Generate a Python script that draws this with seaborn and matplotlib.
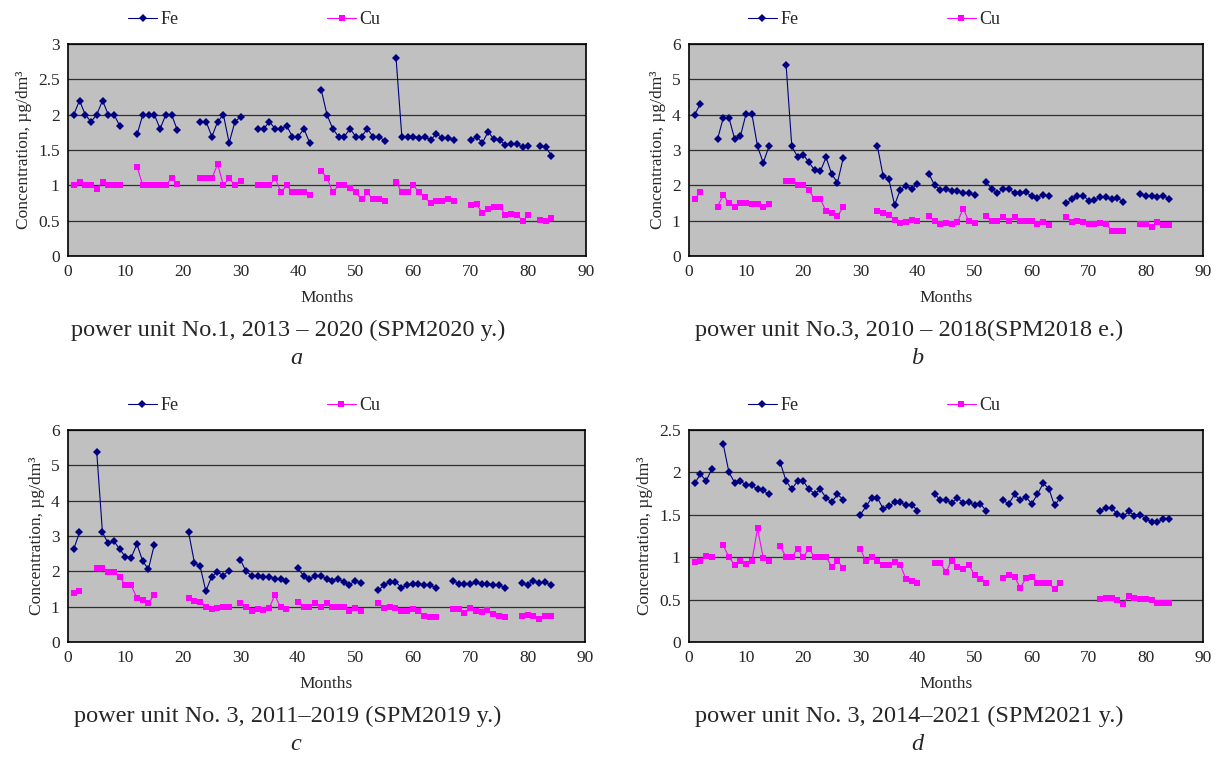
import numpy as np
import pandas as pd
import matplotlib
matplotlib.use('Agg')
import matplotlib.pyplot as plt
import seaborn as sns
from matplotlib.lines import Line2D

N = np.nan
months = list(range(1, 85))

# panel a - power unit No.1
fe_a = [2.0, 2.2, 2.0, 1.9, 2.0, 2.2, 2.0, 2.0, 1.84, N,
        N, 1.72, 2.0, 2.0, 2.0, 1.8, 2.0, 2.0, 1.78, N,
        N, N, 1.9, 1.9, 1.69, 1.9, 2.0, 1.6, 1.9, 1.97,
        N, N, 1.8, 1.8, 1.9, 1.8, 1.8, 1.84, 1.69, 1.69,
        1.8, 1.6, N, 2.35, 2.0, 1.8, 1.69, 1.69, 1.8, 1.69,
        1.69, 1.8, 1.69, 1.69, 1.63, N, 2.8, 1.69, 1.69, 1.69,
        1.67, 1.69, 1.64, 1.73, 1.67, 1.67, 1.64, N, N, 1.64,
        1.69, 1.6, 1.76, 1.65, 1.64, 1.57, 1.58, 1.58, 1.54, 1.56,
        N, 1.55, 1.54, 1.42]
cu_a = [1.0, 1.05, 1.0, 1.0, 0.95, 1.05, 1.0, 1.0, 1.0, N,
        N, 1.26, 1.0, 1.0, 1.0, 1.0, 1.0, 1.1, 1.02, N,
        N, N, 1.1, 1.1, 1.1, 1.3, 1.0, 1.1, 1.0, 1.06,
        N, N, 1.0, 1.0, 1.0, 1.1, 0.9, 1.0, 0.9, 0.9,
        0.9, 0.87, N, 1.2, 1.11, 0.9, 1.0, 1.0, 0.96, 0.9,
        0.8, 0.9, 0.8, 0.8, 0.78, N, 1.05, 0.9, 0.9, 1.0,
        0.9, 0.83, 0.75, 0.78, 0.78, 0.8, 0.78, N, N, 0.72,
        0.73, 0.61, 0.66, 0.7, 0.7, 0.58, 0.6, 0.58, 0.5, 0.58,
        N, 0.51, 0.5, 0.54]

# panel b - power unit No.3, 2010-2018
fe_b = [4.0, 4.31, N, N, 3.31, 3.91, 3.91, 3.31, 3.39, 4.03,
        4.03, 3.1, 2.64, 3.1, N, N, 5.41, 3.1, 2.81, 2.87,
        2.65, 2.43, 2.4, 2.79, 2.31, 2.08, 2.77, N, N, N,
        N, N, 3.1, 2.26, 2.17, 1.44, 1.88, 1.98, 1.9, 2.03,
        N, 2.33, 2.0, 1.87, 1.9, 1.84, 1.84, 1.78, 1.78, 1.72,
        N, 2.1, 1.9, 1.78, 1.9, 1.9, 1.78, 1.78, 1.8, 1.7,
        1.65, 1.74, 1.69, N, N, 1.49, 1.6, 1.71, 1.71, 1.57,
        1.58, 1.66, 1.66, 1.6, 1.65, 1.53, N, N, 1.76, 1.7,
        1.69, 1.67, 1.71, 1.62]
cu_b = [1.62, 1.8, N, N, 1.4, 1.72, 1.5, 1.4, 1.5, 1.5,
        1.46, 1.46, 1.4, 1.46, N, N, 2.12, 2.12, 2.02, 2.02,
        1.86, 1.61, 1.61, 1.27, 1.21, 1.13, 1.38, N, N, N,
        N, N, 1.27, 1.21, 1.17, 1.02, 0.94, 0.97, 1.02, 0.99,
        N, 1.13, 0.99, 0.91, 0.94, 0.91, 0.96, 1.34, 0.99, 0.93,
        N, 1.12, 0.99, 0.99, 1.11, 0.99, 1.11, 0.99, 0.99, 0.99,
        0.9, 0.97, 0.89, N, N, 1.1, 0.96, 0.99, 0.96, 0.91,
        0.91, 0.94, 0.91, 0.72, 0.72, 0.7, N, N, 0.91, 0.91,
        0.83, 0.97, 0.89, 0.87]

# panel c - power unit No.3, 2011-2019
fe_c = [2.63, 3.1, N, N, 5.38, 3.1, 2.79, 2.85, 2.63, 2.41,
        2.39, 2.77, 2.29, 2.06, 2.74, N, N, N, N, N,
        3.1, 2.25, 2.14, 1.44, 1.85, 1.98, 1.88, 2.02, N, 2.33,
        2.0, 1.87, 1.88, 1.85, 1.85, 1.79, 1.79, 1.74, N, 2.09,
        1.88, 1.77, 1.88, 1.88, 1.79, 1.74, 1.79, 1.7, 1.62, 1.74,
        1.67, N, N, 1.47, 1.6, 1.71, 1.71, 1.54, 1.6, 1.64,
        1.64, 1.6, 1.61, 1.53, N, N, 1.74, 1.65, 1.64, 1.63,
        1.7, 1.63, 1.63, 1.6, 1.62, 1.53, N, N, 1.67, 1.61,
        1.74, 1.67, 1.7, 1.61]
cu_c = [1.39, 1.45, N, N, 2.09, 2.09, 1.99, 1.99, 1.85, 1.6,
        1.6, 1.25, 1.18, 1.09, 1.34, N, N, N, N, N,
        1.25, 1.16, 1.14, 0.99, 0.93, 0.95, 0.99, 0.99, N, 1.11,
        0.99, 0.89, 0.93, 0.91, 0.95, 1.33, 0.98, 0.93, N, 1.12,
        0.99, 0.99, 1.09, 0.99, 1.1, 0.99, 0.99, 0.99, 0.87, 0.95,
        0.87, N, N, 1.1, 0.95, 1.0, 0.95, 0.89, 0.89, 0.93,
        0.89, 0.73, 0.7, 0.7, N, N, 0.92, 0.92, 0.82, 0.95,
        0.87, 0.84, 0.9, 0.78, 0.73, 0.7, N, N, 0.74, 0.76,
        0.74, 0.64, 0.74, 0.74]

# panel d - power unit No.3, 2014-2021
fe_d = [1.87, 1.98, 1.9, 2.04, N, 2.33, 2.0, 1.88, 1.9, 1.85,
        1.85, 1.8, 1.79, 1.74, N, 2.11, 1.9, 1.8, 1.9, 1.9,
        1.8, 1.75, 1.8, 1.7, 1.65, 1.74, 1.68, N, N, 1.5,
        1.6, 1.7, 1.7, 1.57, 1.6, 1.65, 1.65, 1.61, 1.62, 1.55,
        N, N, 1.75, 1.67, 1.67, 1.64, 1.7, 1.64, 1.65, 1.61,
        1.63, 1.55, N, N, 1.67, 1.63, 1.74, 1.67, 1.71, 1.63,
        1.74, 1.87, 1.81, 1.61, 1.7, N, N, N, N, N,
        N, 1.55, 1.58, 1.58, 1.51, 1.48, 1.54, 1.49, 1.5, 1.45,
        1.42, 1.41, 1.45, 1.45]
cu_d = [0.94, 0.96, 1.02, 1.0, N, 1.14, 1.0, 0.91, 0.95, 0.92,
        0.95, 1.34, 0.99, 0.95, N, 1.13, 1.0, 1.0, 1.1, 1.0,
        1.1, 1.0, 1.0, 1.0, 0.89, 0.96, 0.87, N, N, 1.1,
        0.95, 1.0, 0.95, 0.91, 0.91, 0.94, 0.91, 0.74, 0.72, 0.7,
        N, N, 0.93, 0.93, 0.83, 0.96, 0.88, 0.86, 0.91, 0.79,
        0.74, 0.7, N, N, 0.75, 0.79, 0.77, 0.64, 0.75, 0.77,
        0.69, 0.7, 0.69, 0.63, 0.7, N, N, N, N, N,
        N, 0.51, 0.52, 0.52, 0.49, 0.45, 0.54, 0.52, 0.51, 0.51,
        0.49, 0.46, 0.46, 0.46]

captions = ['power unit No.1, 2013 \u2013 2020 (SPM2020 y.)',
            'power unit No.3, 2010 \u2013 2018(SPM2018 e.)',
            'power unit No. 3, 2011\u20132019 (SPM2019 y.)',
            'power unit No. 3, 2014\u20132021 (SPM2021 y.)']
letters = ['a', 'b', 'c', 'd']
ymax = [3, 6, 6, 2.5]
ystep = [0.5, 1, 1, 0.5]

FE_COL = '#000080'
CU_COL = '#FF00FF'
W, H = 1219, 758


def to_long(fe, cu):
    # split each series into runs so the gaps stay open
    rows = []
    for name, vals in (('Fe', fe), ('Cu', cu)):
        seg = 0
        prev = False
        for m, v in zip(months, vals):
            ok = not np.isnan(v)
            if ok and not prev:
                seg += 1
            if ok:
                rows.append({'month': m, 'value': v, 'metal': name, 'seg': seg})
            prev = ok
    return pd.DataFrame(rows)


sns.set_style('white')
plt.rcParams['font.family'] = ['Liberation Serif', 'DejaVu Serif']

fig = plt.figure(figsize=(W / 100, H / 100), dpi=100)

# axes boxes in pixels: left, top, right, bottom
boxes = [(68, 44, 586, 256), (689, 44, 1203, 256),
         (68, 430, 585, 642), (689, 430, 1203, 642)]
series = [(fe_a, cu_a), (fe_b, cu_b), (fe_c, cu_c), (fe_d, cu_d)]

for i, (box, (fe, cu)) in enumerate(zip(boxes, series)):
    l, t, r, b = box
    ax = fig.add_axes([l / W, 1 - b / H, (r - l) / W, (b - t) / H])
    ax.set_facecolor('#C0C0C0')
    df = to_long(fe, cu)
    sns.lineplot(data=df, x='month', y='value', hue='metal', style='metal',
                 units='seg', estimator=None, ax=ax,
                 palette={'Fe': FE_COL, 'Cu': CU_COL},
                 markers={'Fe': 'D', 'Cu': 's'}, dashes=False,
                 linewidth=0.8, markersize=4.5, markeredgewidth=0,
                 legend=False)
    ax.set_xlim(0, 90)
    ax.set_ylim(0, ymax[i])
    ax.set_xticks(range(0, 91, 10))
    ax.set_yticks(np.arange(0, ymax[i] + 0.01, ystep[i]))
    ax.yaxis.set_major_formatter(plt.FormatStrFormatter('%g'))
    ax.grid(axis='y', color='#303030', linewidth=0.9)
    ax.set_axisbelow(True)
    for sp in ax.spines.values():
        sp.set_color('black')
        sp.set_linewidth(1.2)
    ax.tick_params(labelsize=12.5, length=3, color='black', pad=3)
    ax.set_xlabel('Months', fontsize=12.5, labelpad=7)
    ax.set_ylabel('Concentration, \u00b5g/dm\u00b3', fontsize=12.5, labelpad=4)

    handles = [Line2D([], [], color=FE_COL, marker='D', markersize=4.5,
                      markeredgewidth=0, linewidth=0.8, label='Fe'),
               Line2D([], [], color=CU_COL, marker='s', markersize=4.5,
                      markeredgewidth=0, linewidth=0.8, label='Cu')]
    ax.legend(handles=handles, ncol=2, frameon=False, fontsize=13,
              loc='lower center', bbox_to_anchor=(0.36, 1.04),
              columnspacing=8.2, handlelength=1.6, handletextpad=0.2,
              borderaxespad=0)

    cx = l + 220
    cap_y = b + 74
    fig.text(cx / W, 1 - cap_y / H, captions[i], fontsize=17.5,
             ha='center', va='center')
    fig.text((cx + 8) / W, 1 - (cap_y + 28) / H, letters[i], fontsize=17.5,
             style='italic', ha='center', va='center')

fig.savefig('out.png', dpi=100)
